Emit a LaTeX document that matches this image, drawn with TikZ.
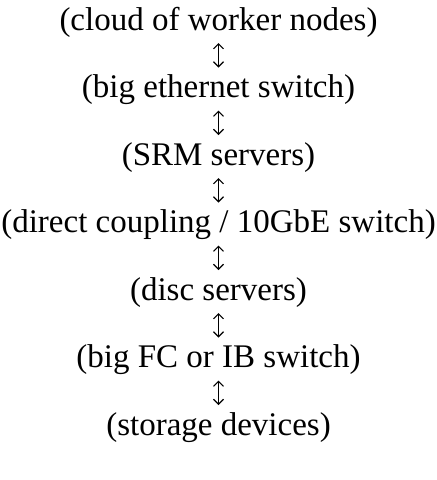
\documentclass[tikz,border=0pt]{standalone}
\usepackage{fontspec}
\setmainfont{Liberation Serif}
\usetikzlibrary{arrows.meta}
\begin{document}
\begin{tikzpicture}[x=1pt,y=-1pt,
  label/.style={anchor=base,inner sep=0pt,font=\fontsize{33}{39}\selectfont},
  updown/.style={{Straight Barb[length=5pt,width=10pt]}-{Straight Barb[length=5pt,width=10pt]},line width=1.1pt}]
\useasboundingbox (0,0) rectangle (437,480);
\node[label] (n1) at (218.5,30) {(cloud of worker nodes)};
\node[label] (n2) at (218.5,97.5) {(big ethernet switch)};
\node[label] (n3) at (218.5,165) {(SRM servers)};
\node[label] (n4) at (218.5,232.5) {(direct coupling / 10GbE switch)};
\node[label] (n5) at (218.5,300) {(disc servers)};
\node[label] (n6) at (218.5,367.5) {(big FC or IB switch)};
\node[label] (n7) at (218.5,435) {(storage devices)};
\foreach \a/\b in {n1/n2,n2/n3,n3/n4,n4/n5,n5/n6,n6/n7}
  \draw[updown] ([yshift=-13pt]\a.base) -- ([yshift=30pt]\b.base);
\end{tikzpicture}
\end{document}
